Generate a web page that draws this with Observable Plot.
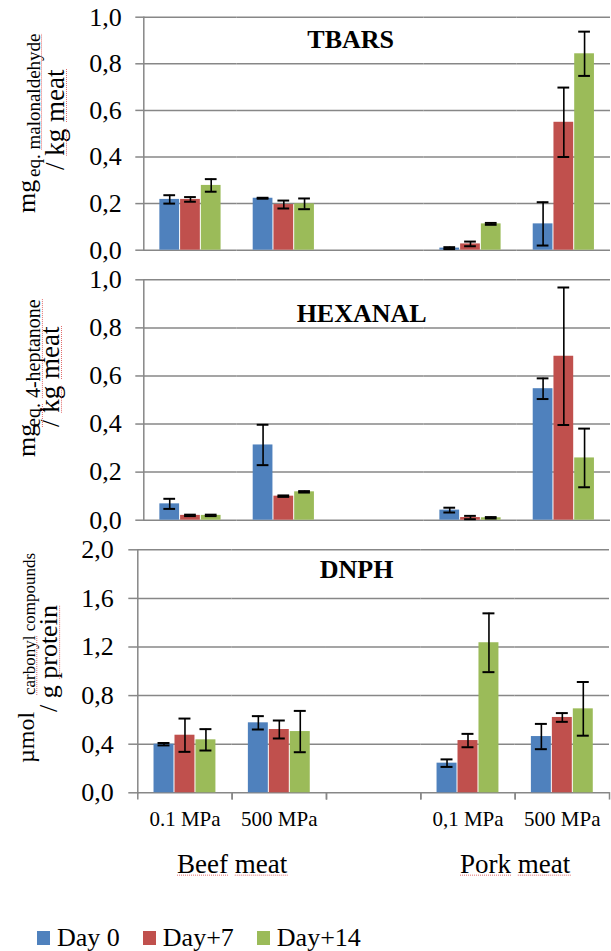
<!DOCTYPE html>
<html>
<head>
<meta charset="utf-8">
<script src="https://cdn.jsdelivr.net/npm/d3@7"></script>
<script src="https://cdn.jsdelivr.net/npm/@observablehq/plot@0.6"></script>
<style>
html, body { margin: 0; padding: 0; background: #fff; }
#chart { width: 611px; }
#chart svg text { font-family: 'Liberation Serif','Times New Roman',Times,serif; }
.lg-swatches { padding-left: 37px; margin-top: 26px !important; font-family: 'Liberation Serif','Times New Roman',Times,serif !important; font-size: 26px !important; color: #000; }
.lg-swatch { margin-right: 23px !important; }
.lg-swatch > svg { margin-right: 7px !important; }
</style>
</head>
<body>
<div id="chart"></div>
<script>
// ---- data ----
const categories = ["Beef 0.1", "Beef 500", "gap", "Pork 0.1", "Pork 500"];
const categoryLabels = ["0.1 MPa", "500 MPa", "", "0,1 MPa", "500 MPa"];
const groupLabels = ["Beef meat", "Pork meat"];
const groupAfter = ["Beef 0.1", "Pork 0.1"];
const days = ["Day 0", "Day+7", "Day+14"];
const dayColors = ["#4F81BD", "#C0504D", "#9BBB59"];

const tbarsMean = [[0.218, 0.218, 0.278], [0.223, 0.196, 0.199], [null, null, null], [0.009, 0.027, 0.113], [0.113, 0.549, 0.843]];
const tbarsErr  = [[0.018, 0.010, 0.027], [0.002, 0.017, 0.023], [null, null, null], [0.004, 0.010, 0.004], [0.093, 0.149, 0.095]];
const hexanalMean = [[0.068, 0.020, 0.020], [0.313, 0.100, 0.118], [null, null, null], [0.042, 0.011, 0.010], [0.547, 0.682, 0.259]];
const hexanalErr  = [[0.021, 0.003, 0.003], [0.084, 0.003, 0.003], [null, null, null], [0.010, 0.007, 0.003], [0.043, 0.286, 0.122]];
const dnphMean = [[0.400, 0.474, 0.436], [0.576, 0.521, 0.504], [null, null, null], [0.244, 0.430, 1.235], [0.463, 0.620, 0.691]];
const dnphErr  = [[0.010, 0.137, 0.088], [0.055, 0.074, 0.170], [null, null, null], [0.031, 0.055, 0.242], [0.104, 0.036, 0.221]];

const ticksLow = [0, 0.2, 0.4, 0.6, 0.8, 1.0];
const ticksHigh = [0, 0.4, 0.8, 1.2, 1.6, 2.0];
const panelTitles = ["TBARS", "HEXANAL", "DNPH"];

// ---- helpers ----
const SERIF = "'Liberation Serif','Times New Roman',Times,serif";
const GRID = "#878787";
const SPELL = "#e06a6a";
const fmt = d => d.toFixed(1).replace(".", ",");

function rows(mean, err) {
  const out = [];
  categories.forEach((cat, i) => days.forEach((day, j) => {
    const m = mean[i][j], e = err[i][j];
    out.push({cat, day, mean: m, lo: m == null ? null : m - e, hi: m == null ? null : m + e});
  }));
  return out;
}

function panel(o) {
  const data = rows(o.mean, o.err);
  const cap = {fx: "cat", x: "day", stroke: "black", strokeWidth: 2, insetLeft: 4.5, insetRight: 4.5};
  const plotH = o.height - o.mt - o.mb;
  const marks = [
    Plot.gridY(o.ticks, {stroke: GRID, strokeOpacity: 1, strokeWidth: 1.5}),
    Plot.axisY(o.ticks, {tickSize: o.tickSize, tickPadding: o.tickPadding, stroke: GRID, strokeWidth: 1.5, fill: "black", fontSize: 26, tickFormat: fmt, label: null}),
    Plot.frame({anchor: "left", facet: "super", stroke: GRID, strokeWidth: 1.5}),
    Plot.barY(data, {fx: "cat", x: "day", y: "mean", fill: "day", insetLeft: 0.5, insetRight: 0.5}),
    Plot.ruleX(data, {fx: "cat", x: "day", y1: "lo", y2: "hi", stroke: "black", strokeWidth: 1.6}),
    Plot.tickY(data, {...cap, y: "lo"}),
    Plot.tickY(data, {...cap, y: "hi"}),
    Plot.text([o.title], {facet: "super", text: d => d, frameAnchor: "top", lineAnchor: "top", dx: o.titleDx, dy: o.titleDy, fontSize: 26, fontWeight: "bold", fill: "black"})
  ];
  if (o.bottom) {
    marks.push(
      Plot.frame({anchor: "left", insetTop: plotH, insetBottom: -6, stroke: GRID, strokeWidth: 1.5}),
      Plot.frame({anchor: "right", insetTop: plotH, insetBottom: -6, stroke: GRID, strokeWidth: 1.5}),
      Plot.axisFx({anchor: "bottom", tickSize: 0, tickPadding: 18, fontSize: 21, fill: "black", label: null,
        tickFormat: d => categoryLabels[categories.indexOf(d)]}),
      Plot.text(groupLabels.map((label, i) => ({label, cat: groupAfter[i]})), {
        fx: "cat", text: "label", frameAnchor: "bottom-right", textAnchor: "middle", lineAnchor: "top",
        dy: 60.7, fontSize: 27, fill: "black"})
    );
  }
  const svg = Plot.plot({
    width: 611, height: o.height,
    marginTop: o.mt, marginBottom: o.mb, marginLeft: o.ml, marginRight: o.mr,
    x: {domain: days, paddingInner: 0, paddingOuter: 0.75, round: false, axis: null},
    fx: {domain: categories, padding: 0, round: false, ...(o.bottom ? {} : {axis: null})},
    y: {domain: [0, o.yMax]},
    color: {domain: days, range: dayColors},
    style: {fontFamily: SERIF, fontSize: "26px", color: "black", background: "white", overflow: "visible"},
    marks
  });
  // rotated y-axis title pieces
  const g = d3.select(svg).append("g").attr("font-family", SERIF).attr("fill", "black").attr("text-anchor", "start");
  for (const p of o.yTitle) {
    const t = g.append("text")
      .attr("text-anchor", "start")
      .attr("transform", `translate(${p.x},${p.y}) rotate(-90)`)
      .attr("font-size", p.size);
    for (const s of p.segs) {
      const ts = t.append("tspan").text(s[0]);
      if (s[1]) ts.attr("class", "spell");
    }
  }
  if (o.bottom) {
    d3.select(svg).selectAll("text").filter(function () { return groupLabels.includes(this.textContent); })
      .each(function () {
        const words = this.textContent.split(" ");
        const sel = d3.select(this); sel.text(null);
        words.forEach((w, i) => {
          sel.append("tspan").attr("class", "spell").text(w);
          if (i < words.length - 1) sel.append("tspan").text(" ");
        });
      });
  }
  return svg;
}

// faint dotted "spell-check" underlines under the marked words
function drawSpellLines(root) {
  root.querySelectorAll("tspan.spell").forEach(ts => {
    const text = ts.parentNode;
    const bb = ts.getBBox();
    const size = parseFloat(getComputedStyle(text).fontSize);
    const y = bb.y + bb.height - 0.13 * size;
    const line = document.createElementNS("http://www.w3.org/2000/svg", "line");
    line.setAttribute("x1", bb.x);
    line.setAttribute("x2", bb.x + bb.width);
    line.setAttribute("y1", y);
    line.setAttribute("y2", y);
    line.setAttribute("stroke", SPELL);
    line.setAttribute("stroke-width", 1);
    line.setAttribute("stroke-dasharray", "1 1");
    const tr = text.getAttribute("transform");
    if (tr) line.setAttribute("transform", tr);
    text.parentNode.appendChild(line);
  });
}

const chart = document.getElementById("chart");

chart.append(panel({
  mean: tbarsMean, err: tbarsErr, ticks: ticksLow, yMax: 1.0, title: panelTitles[0],
  height: 265, mt: 16.7, mb: 15.3, ml: 143.3, mr: 1, tickSize: 8, tickPadding: 14,
  titleDx: -26.5, titleDy: 12.3,
  yTitle: [
    {x: 35, y: 213, size: 26, segs: [["mg"]]},
    {x: 40, y: 177, size: 19, segs: [["eq. "], ["malonaldehyde", 1]]},
    {x: 64, y: 170, size: 27, segs: [["/ "], ["kg", 1], [" "], ["meat", 1]]}
  ]
}));

chart.append(panel({
  mean: hexanalMean, err: hexanalErr, ticks: ticksLow, yMax: 1.0, title: panelTitles[1],
  height: 270, mt: 14.3, mb: 15.3, ml: 143.3, mr: 1, tickSize: 8, tickPadding: 14,
  titleDx: -15.5, titleDy: 23.7,
  yTitle: [
    {x: 35, y: 192, size: 26, segs: [["mg"]]},
    {x: 40, y: 162, size: 20, segs: [["eq.", 1], [" "], ["4-heptanone", 1]]},
    {x: 59, y: 162, size: 27, segs: [["/ "], ["kg", 1], [" "], ["meat", 1]]}
  ]
}));

chart.append(panel({
  mean: dnphMean, err: dnphErr, ticks: ticksHigh, yMax: 2.0, title: panelTitles[2], bottom: true,
  height: 360, mt: 14.3, mb: 102.7, ml: 137.3, mr: 2, tickSize: 9, tickPadding: 15,
  titleDx: -17, titleDy: 9.7,
  yTitle: [
    {x: 34, y: 228, size: 24, segs: [["µmol"]]},
    {x: 35, y: 160, size: 17, segs: [["carbonyl", 1], [" compounds"]]},
    {x: 57, y: 177, size: 26, segs: [["/ g "], ["protein", 1]]}
  ]
}));

chart.append(Plot.legend({
  color: {domain: days, range: dayColors},
  legend: "swatches", swatchWidth: 13, swatchHeight: 14, className: "lg",
  style: {fontFamily: SERIF, fontSize: "26px", color: "black"}
}));

drawSpellLines(chart);
</script>
</body>
</html>
